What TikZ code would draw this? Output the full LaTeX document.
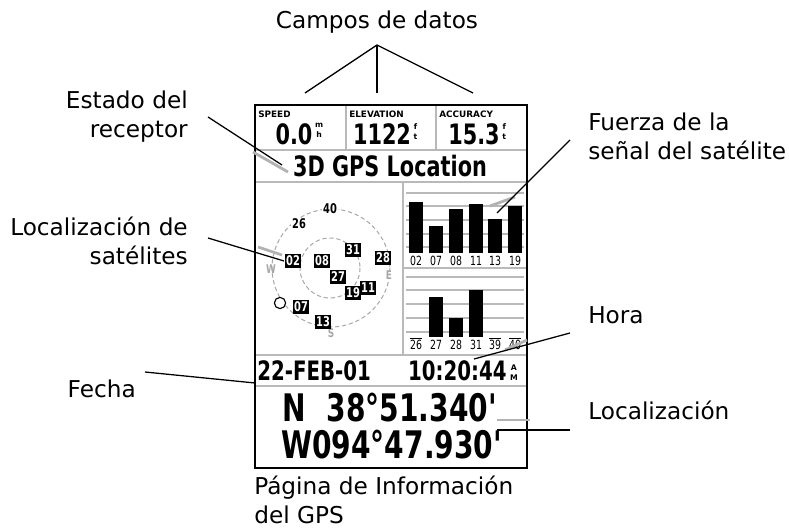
\documentclass[tikz,border=0pt]{standalone}
\usepackage{fontspec}
\setmainfont{DejaVu Sans}
\newfontfamily\lcd[FakeStretch=0.74]{DejaVu Sans}
\newcommand{\ampmmark}{\raisebox{0.5pt}{\normalfont\bfseries\fontsize{5.5}{7.2}\selectfont\shortstack{A\\M}}}
\usetikzlibrary{positioning}

\begin{document}
\begin{tikzpicture}[x=0.025cm,y=-0.025cm,
  every node/.style={inner sep=0pt},
  callout/.style={font=\fontsize{16.5}{20.6}\selectfont},
  leader/.style={black,line width=0.9pt},
  ghost/.style={gray!60,line width=2pt},
  sep/.style={draw=gray!55,line width=1.5pt},
  gridln/.style={draw=gray!55,line width=0.8pt},
  tinylbl/.style={font=\bfseries\fontsize{6.3}{6.3}\selectfont},
  value/.style={font=\lcd\bfseries\fontsize{20}{20}\selectfont},
  unit/.style={font=\bfseries\fontsize{5.5}{7}\selectfont,align=center},
  satbox/.style={fill=black,text=white,font=\lcd\bfseries\fontsize{9.5}{9.5}\selectfont,minimum width=11.5pt,minimum height=10pt},
  satplain/.style={fill=white,font=\lcd\bfseries\fontsize{9.5}{9.5}\selectfont,inner sep=1pt},
  compass/.style={text=gray!70,font=\lcd\bfseries\fontsize{8.5}{8.5}\selectfont},
  barlbl/.style={font=\lcd\fontsize{9}{9}\selectfont}]
\useasboundingbox (0,0) rectangle (789,530);

% screen frame and panels
\draw[sep] (255,150) -- (527,150);
\draw[sep] (346,105) -- (346,150);
\draw[sep] (436,105) -- (436,150);
\draw[sep] (255,182) -- (527,182);
\draw[sep] (403,182) -- (403,355);
\draw[sep] (403,268) -- (527,268);
\draw[sep] (255,355) -- (527,355);
\draw[sep] (255,386) -- (527,386);
\draw[line width=0.9pt] (255,105) rectangle (527,468);

% data fields
\node[tinylbl,anchor=west] (spdLbl) at (258,114) {SPEED};
\node[tinylbl,anchor=west] (eleLbl) at (349,114) {ELEVATION};
\node[tinylbl,anchor=west] (accLbl) at (439,114) {ACCURACY};
\node[value] (spdVal) at (294,134) {0.0};
\node[value] (eleVal) at (382,134) {1122};
\node[value] (accVal) at (474,134) {15.3};
\node[unit,anchor=north west] (spdUnit) at ([xshift=1.5pt]spdVal.north east) {m\\h};
\node[unit,anchor=north west] (eleUnit) at ([xshift=1.5pt]eleVal.north east) {f\\t};
\node[unit,anchor=north west] (accUnit) at ([xshift=1.5pt]accVal.north east) {f\\t};

% receiver status
\node[font=\lcd\bfseries\fontsize{20}{20}\selectfont] (status) at (390,166) {3D GPS Location};

% sky view
\draw[gray!70,densely dashed,line width=0.7pt] (331,268) circle (59);
\draw[gray!70,densely dashed,line width=0.7pt] (330,268) circle (30);
\node[satplain] (s40) at (330,209) {40};
\node[satplain] (s26) at (299,224) {26};
\node[compass] (cW) at (271,269) {W};
\node[compass,fill=white] (cE) at (389,275) {E};
\node[compass,fill=white] (cS) at (331,333) {S};
\node[satbox] (s02) at (293,261) {02};
\node[satbox] (s08) at (322,261) {08};
\node[satbox] (s27) at (338,277) {27};
\node[satbox] (s31) at (353,250) {31};
\node[satbox] (s28) at (383,258) {28};
\node[satbox] (s19) at (353,293) {19};
\node[satbox] (s11) at (368,288) {11};
\node[satbox] (s07) at (301,307) {07};
\node[satbox] (s13) at (323,322) {13};
\node[draw,circle,line width=0.8pt,minimum size=8pt,fill=white] (sun) at (280,303) {};

% signal strength bars
\foreach \gy in {193,206,220,234,247} \draw[gridln] (406,\gy) -- (524,\gy);
\foreach \gy in {277,290,304,318,332} \draw[gridln] (406,\gy) -- (524,\gy);
\foreach \bx/\btop/\bl in {409/202/02,429/226/07,449/209/08,469/204/11,488/219/13,508/206/19}{
  \fill (\bx,253) rectangle ++(14,\btop-253);
  \node[barlbl] (b\bl) at (\bx+7,261) {\bl};
}
\foreach \bx/\btop/\bl in {429/297/27,449/318/28,469/290/31}
  \fill (\bx,337) rectangle ++(14,\btop-337);
\foreach \bx/\bl in {409/26,429/27,449/28,469/31,488/39,508/40}
  \node[barlbl,fill=white] (c\bl) at (\bx+7,345) {\bl};
\foreach \bl in {26,39,40}
  \draw[line width=0.5pt] ([yshift=1.2pt]c\bl.north west) -- ([yshift=1.2pt]c\bl.north east);

% date and time
\node[font=\lcd\bfseries\fontsize{19}{19}\selectfont,anchor=west] (date) at (257,371) {22-FEB-01};
\node[font=\lcd\bfseries\fontsize{19}{19}\selectfont,anchor=east] (time) at (518,371) {10:20:44\hspace{2.5pt}\ampmmark};

% location
\node[font=\lcd\bfseries\fontsize{27}{27}\selectfont,anchor=west] (lat) at (282,408) {N\hspace{0.55em}38\textdegree51.340'};
\node[font=\lcd\bfseries\fontsize{27}{27}\selectfont,anchor=west] (lon) at (281,445) {W094\textdegree47.930'};

% callouts
\node[callout] (lblCampos) at (377,22) {Campos de datos};
\node[callout,align=right,anchor=east] (lblEstado) at (188,117) {Estado del\\receptor};
\node[callout,align=right,anchor=east] (lblSatLoc) at (188,241) {Localización de\\satélites};
\node[callout,align=left,anchor=west] (lblFuerza) at (588,136) {Fuerza de la\\señal del satélite};
\node[callout,anchor=west] (lblHora) at (588,315) {Hora};
\node[callout,anchor=west] (lblLoc) at (588,410) {Localización};
\node[callout,anchor=east] (lblFecha) at (136,389) {Fecha};
\node[callout,align=left,anchor=north west] (lblPagina) at (254,476) {Página de Información\\del GPS};

% leader lines
\coordinate (campApex) at (377,45);
\coordinate (campA) at (305,93);
\coordinate (campB) at (377,93);
\coordinate (campC) at (473,93);
\draw[leader] (campA) -- (campApex) -- (campC);
\draw[leader] (campApex) -- (campB);

\coordinate (estStart) at (208,117);
\coordinate (estEnd) at (282,165);
\draw[ghost] (253,152) -- (288,172);
\draw[leader] (estStart) -- (estEnd);

\coordinate (satStart) at (208,238);
\coordinate (satEnd) at (284,261);
\draw[ghost] (258,247) -- (282,255);
\draw[leader] (satStart) -- (satEnd);

\coordinate (fueStart) at (570,140);
\coordinate (fueEnd) at (497,213);
\draw[ghost] (490,206) -- (515,197);
\draw[leader] (fueStart) -- (fueEnd);

\coordinate (horStart) at (570,333);
\coordinate (horEnd) at (474,359);
\draw[ghost] (505,350) -- (527,340);
\draw[leader] (horStart) -- (horEnd);

\coordinate (locStart) at (570,430);
\coordinate (locEnd) at (497,430);
\draw[ghost] (497,420) -- (530,420);
\draw[leader] (locStart) -- (locEnd);

\coordinate (fecStart) at (145,372);
\coordinate (fecEnd) at (255,383);
\draw[leader] (fecStart) -- (fecEnd);
\end{tikzpicture}
\end{document}
